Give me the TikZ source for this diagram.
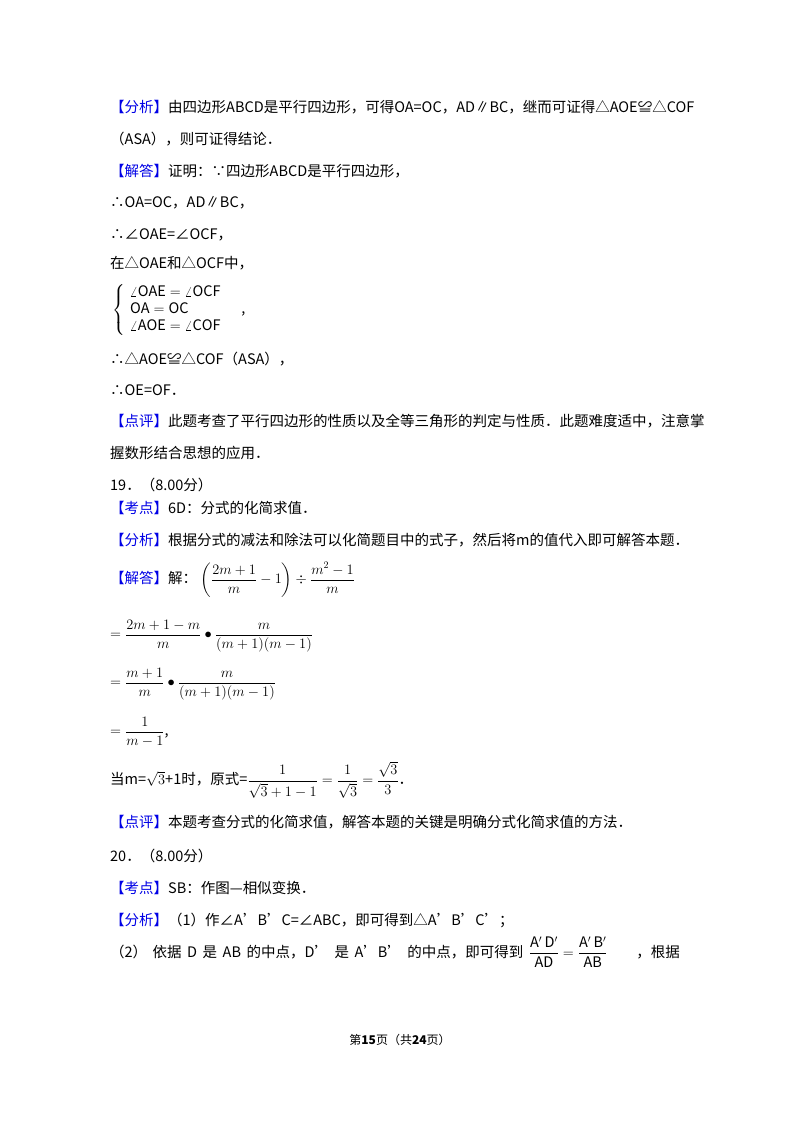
\documentclass[tikz,border=0pt]{standalone}
\usepackage{fontspec}
\setmainfont{Noto Sans CJK SC}
\usepackage{amsmath}
\definecolor{lb}{RGB}{0,0,230}
\tikzset{t/.style={anchor=west,inner sep=0pt,font=\fontsize{14.5}{17}\selectfont}}
\newcommand{\lab}[1]{\textcolor{lb}{【#1】}}
\newcommand{\ap}{{\char"27}}
\newcommand{\gp}{\hspace{5.5pt}}
\begin{document}
\begin{tikzpicture}[x=1pt,y=-1pt]
\useasboundingbox (0,0) rectangle (800,1132);
\fill[white] (0,0) rectangle (800,1132);
\node[t] (l1) at (110,107) {\lab{分析}由四边形ABCD是平行四边形，可得OA=OC，AD∥BC，继而可证得△AOE≌△COF};
\node[t] (l2) at (110,139) {（ASA），则可证得结论．};
\node[t] (l3) at (110,171) {\lab{解答}证明：∵四边形ABCD是平行四边形，};
\node[t] (l4) at (110,203) {∴OA=OC，AD∥BC，};
\node[t] (l5) at (110,235) {∴∠OAE=∠OCF，};
\node[t] (l6) at (110,263) {在△OAE和△OCF中，};
\node[t] (l7) at (112,310) {$\left\{\begin{array}{l}\angle\mathrm{OAE}=\angle\mathrm{OCF}\\ \mathrm{OA}=\mathrm{OC}\\ \angle\mathrm{AOE}=\angle\mathrm{COF}\end{array}\right.$\quad ,};
\node[t] (l8) at (110,359) {∴△AOE≌△COF（ASA），};
\node[t] (l9) at (110,390) {∴OE=OF．};
\node[t] (l10) at (110,421) {\lab{点评}此题考查了平行四边形的性质以及全等三角形的判定与性质．此题难度适中，注意掌};
\node[t] (l11) at (110,453) {握数形结合思想的应用．};
\node[t] (l12) at (110,485) {19．（8.00分）};
\node[t] (l13) at (110,508) {\lab{考点}6D：分式的化简求值．};
\node[t] (l14) at (110,540) {\lab{分析}根据分式的减法和除法可以化简题目中的式子，然后将m的值代入即可解答本题．};
\node[t] (l15) at (110,580) {\lab{解答}解：\ $\left(\dfrac{2m+1}{m}-1\right)\div\dfrac{m^2-1}{m}$};
\node[t] (l16) at (110,636) {$=\dfrac{2m+1-m}{m}\bullet\dfrac{m}{(m+1)(m-1)}$};
\node[t] (l17) at (110,684) {$=\dfrac{m+1}{m}\bullet\dfrac{m}{(m+1)(m-1)}$};
\node[t] (l18) at (110,732) {$=\dfrac{1}{m-1}$,};
\node[t] (l19) at (110,780) {当m=$\sqrt{3}$+1时，原式=$\dfrac{1}{\sqrt{3}+1-1}=\dfrac{1}{\sqrt{3}}=\dfrac{\sqrt{3}}{3}$．};
\node[t] (l20) at (110,822) {\lab{点评}本题考查分式的化简求值，解答本题的关键是明确分式化简求值的方法．};
\node[t] (l21) at (110,856) {20．（8.00分）};
\node[t] (l22) at (110,888) {\lab{考点}SB：作图—相似变换．};
\node[t] (l23) at (110,920) {\lab{分析}（1）作∠A\ap B\ap C=∠ABC，即可得到△A\ap B\ap C\ap ；};
\node[t] (l24) at (110,952) {（2）\gp 依据\gp D\gp 是\gp AB\gp 的中点，D\ap\gp 是\gp A\ap B\ap\gp 的中点，即可得到\gp $\dfrac{\mathrm{A'\,D'}}{\mathrm{AD}}=\dfrac{\mathrm{A'\,B'}}{\mathrm{AB}}$};
\node[t,anchor=east] (l25) at (680,952) {，根据};
\node[inner sep=0pt,font=\fontsize{12}{14}\selectfont] (ft) at (400,1040) {第\textbf{15}页（共\textbf{24}页）};
\end{tikzpicture}
\end{document}
